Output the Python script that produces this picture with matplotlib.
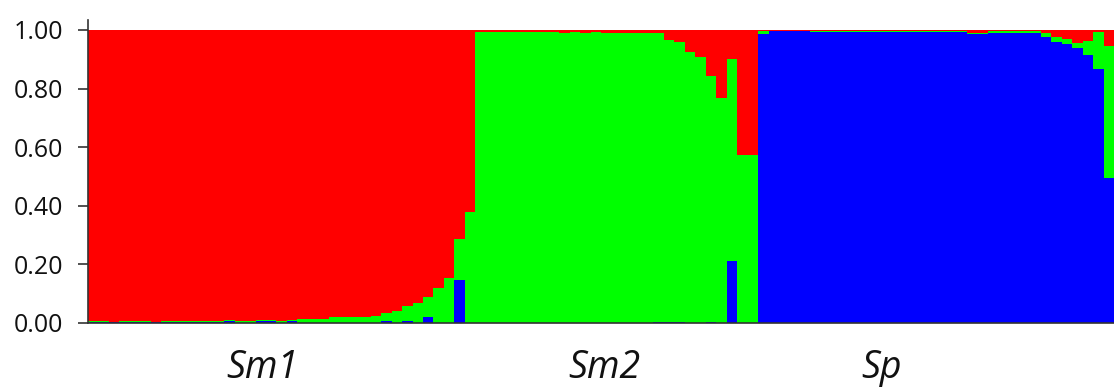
import matplotlib
matplotlib.use('Agg')
import matplotlib.pyplot as plt
import matplotlib.transforms as mtransforms
import numpy as np

plt.rcParams['font.family'] = ['Open Sans', 'DejaVu Sans']

groups = ['Sm1', 'Sm2', 'Sp']

# membership per individual (blue / green), red is the remainder
sm1_blue = [0.002, 0.002, 0.002, 0.002, 0.002, 0.002, 0.002, 0.002, 0.002, 0.002,
            0.002, 0.002, 0.002, 0.006, 0.0, 0.0, 0.006, 0.006, 0.0, 0.006,
            0.0, 0.0, 0.0, 0.0, 0.0, 0.0, 0.0, 0.0, 0.008, 0.0,
            0.008, 0.0, 0.02, 0.0, 0.0, 0.147, 0.0]
sm1_green = [0.004, 0.004, 0.003, 0.004, 0.004, 0.004, 0.003, 0.004, 0.004, 0.004,
             0.004, 0.004, 0.004, 0.003, 0.006, 0.006, 0.004, 0.004, 0.008, 0.004,
             0.013, 0.013, 0.013, 0.02, 0.02, 0.02, 0.02, 0.025, 0.025, 0.041,
             0.05, 0.067, 0.07, 0.12, 0.155, 0.138, 0.38]

sm2_blue = [0.0, 0.0, 0.0, 0.0, 0.0, 0.0, 0.0, 0.0, 0.0, 0.0,
            0.0, 0.0, 0.0, 0.0, 0.0, 0.0, 0.0, 0.005, 0.005, 0.005,
            0.0, 0.0, 0.005, 0.0, 0.213, 0.0, 0.0]
sm2_red = [0.007, 0.007, 0.007, 0.007, 0.007, 0.007, 0.007, 0.007, 0.012, 0.007,
           0.012, 0.007, 0.011, 0.011, 0.011, 0.011, 0.011, 0.011, 0.034, 0.04,
           0.076, 0.091, 0.157, 0.233, 0.1, 0.427, 0.427]

sp_red = [0.005, 0.004, 0.004, 0.004, 0.004, 0.004, 0.004, 0.004, 0.004, 0.004,
          0.004, 0.004, 0.004, 0.004, 0.004, 0.004, 0.004, 0.004, 0.004, 0.004,
          0.012, 0.012, 0.004, 0.004, 0.004, 0.004, 0.004, 0.01, 0.025, 0.03,
          0.045, 0.036, 0.007, 0.055]
sp_green = [0.01, 0.0, 0.0, 0.0, 0.0, 0.004, 0.004, 0.004, 0.004, 0.004,
            0.004, 0.004, 0.004, 0.004, 0.004, 0.004, 0.004, 0.004, 0.004, 0.004,
            0.003, 0.003, 0.007, 0.007, 0.007, 0.007, 0.007, 0.013, 0.017, 0.018,
            0.017, 0.049, 0.127, 0.451]

label_x = [16.7, 49.3, 75.8]
yticks = [0.0, 0.2, 0.4, 0.6, 0.8, 1.0]

# assemble the three components
sm1_blue = np.array(sm1_blue)
sm1_green = np.array(sm1_green)
sm1_red = 1 - sm1_blue - sm1_green
sm2_blue = np.array(sm2_blue)
sm2_red = np.array(sm2_red)
sm2_green = 1 - sm2_blue - sm2_red
sp_red = np.array(sp_red)
sp_green = np.array(sp_green)
sp_blue = 1 - sp_red - sp_green

blue = np.concatenate([sm1_blue, sm2_blue, sp_blue])
green = np.concatenate([sm1_green, sm2_green, sp_green])
red = np.concatenate([sm1_red, sm2_red, sp_red])
x = np.arange(len(blue))

fig = plt.figure(figsize=(11.14, 3.87), dpi=100)
ax = fig.add_axes([88 / 1114, 64 / 387, 1 - 88 / 1114, (323 - 20) / 387])

kw = dict(width=1.0, align='edge', linewidth=0, antialiased=False)
ax.bar(x, blue, color='#0000ff', **kw)
ax.bar(x, green, bottom=blue, color='#00ff00', **kw)
ax.bar(x, red, bottom=blue + green, color='#ff0000', **kw)

ax.set_xlim(0, len(x))
ax.set_ylim(0, 1.034)
ax.set_yticks(yticks)
ax.set_yticklabels(['{:.2f}'.format(v) for v in yticks])
ax.set_xticks([])
ax.tick_params(axis='y', length=7, width=1.2, pad=11, labelsize=18,
               color='#333333', labelcolor='#111111')

for s in ['top', 'right']:
    ax.spines[s].set_visible(False)
ax.spines['left'].set_color('#333333')
ax.spines['left'].set_linewidth(1.2)
ax.spines['bottom'].set_color('#333333')
ax.spines['bottom'].set_linewidth(1.2)

trans = mtransforms.blended_transform_factory(ax.transData, fig.transFigure)
for name, lx in zip(groups, label_x):
    ax.text(lx, 9 / 387, name, transform=trans, ha='center', va='baseline',
            fontsize=27, style='italic', color='#111111')

fig.savefig('out.png', dpi=100)
